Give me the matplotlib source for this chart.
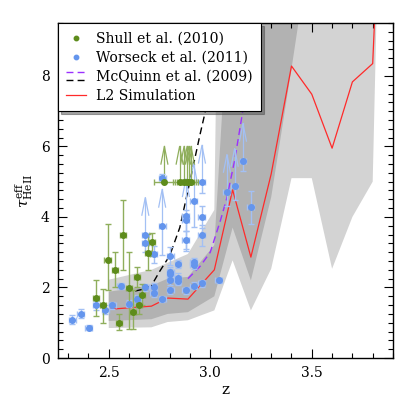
import numpy as np
import matplotlib
matplotlib.use("Agg")
import matplotlib.pyplot as plt
from matplotlib.legend_handler import HandlerBase
from matplotlib.lines import Line2D
from matplotlib.ticker import MultipleLocator

plt.rcParams["font.family"] = ["DejaVu Serif"]
plt.rcParams["mathtext.fontset"] = "dejavuserif"

# --- L2 simulation: median and percentile bands --------------------------
sim_z = [2.50, 2.71, 2.79, 2.89, 3.02, 3.11, 3.20, 3.30, 3.40, 3.50, 3.60, 3.70, 3.80, 3.82]
sim_tau = [1.38, 1.47, 1.70, 1.67, 2.50, 4.77, 2.86, 5.22, 8.28, 7.48, 5.95, 7.83, 8.35, 11.0]
dark_lo = [1.05, 1.10, 1.25, 1.30, 1.75, 3.70, 2.20, 4.56, 8.20, 12.0, 12.0, 12.0, 12.0, 12.0]
dark_hi = [1.88, 2.05, 2.25, 2.30, 3.20, 12.0, 20.0, 20.0, 20.0, 20.0, 20.0, 20.0, 20.0, 20.0]
light_lo = [0.85, 0.87, 1.02, 1.07, 1.35, 2.77, 1.35, 2.53, 5.10, 5.10, 2.53, 4.00, 5.00, 10.0]
light_hi = [2.22, 2.50, 2.70, 2.95, 4.20, 40.0, 40.0, 40.0, 40.0, 40.0, 40.0, 40.0, 40.0, 40.0]

# --- McQuinn et al. (2009) models ----------------------------------------
mcq_black_z = [2.63, 2.67, 2.71, 2.75, 2.80, 2.85, 2.89, 2.92, 2.95, 2.98, 3.01]
mcq_black_tau = [1.90, 1.95, 2.05, 2.45, 2.90, 3.70, 4.75, 5.55, 6.35, 7.10, 8.00]
mcq_purple_z = [2.89, 2.95, 3.00, 3.05, 3.08, 3.12, 3.16, 3.19]
mcq_purple_tau = [2.25, 2.60, 3.00, 3.90, 4.50, 5.60, 7.00, 8.20]

# --- Shull et al. (2010) --------------------------------------------------
shull_z = [2.438, 2.470, 2.494, 2.531, 2.551, 2.572, 2.598, 2.618, 2.638,
           2.651, 2.664, 2.692, 2.715]
shull_tau = [1.70, 1.49, 2.79, 2.50, 1.00, 3.50, 1.99, 1.30, 2.30,
             1.49, 1.80, 2.99, 3.30]
shull_lo = [0.50, 0.50, 0.87, 0.50, 0.22, 1.00, 1.16, 0.47, 0.30,
            0.25, 0.30, 0.49, 0.40]
shull_hi = [0.50, 0.47, 1.01, 0.50, 0.24, 0.99, 1.01, 0.62, 0.28,
            0.26, 0.30, 0.53, 0.25]
shull_lim_z = [2.774, 2.849, 2.871, 2.886, 2.894, 2.905]
shull_lim_tau = [5.0, 5.0, 5.0, 5.0, 5.0, 5.0]
shull_lim_xerr = [0.053, 0.035, 0.035, 0.035, 0.035, 0.035]

# --- Worseck et al. (2011) ------------------------------------------------
wor_z = [2.321, 2.361, 2.402, 2.438, 2.482, 2.518, 2.559, 2.600, 2.640,
         2.680, 2.680, 2.722, 2.722, 2.722, 2.763, 2.763, 2.803, 2.803,
         2.803, 2.803, 2.803, 2.841, 2.841, 2.841, 2.880, 2.880, 2.880,
         2.918, 2.918, 2.918, 2.959, 2.959, 2.959, 3.041, 3.200]
wor_tau = [1.09, 1.26, 0.86, 1.49, 1.37, 1.49, 2.04, 1.54, 1.68,
           2.01, 3.27, 2.00, 1.83, 2.94, 5.10, 1.68, 2.89, 2.44,
           2.37, 2.20, 1.92, 2.67, 2.26, 2.18, 3.90, 3.35, 1.92,
           2.72, 2.65, 2.05, 4.00, 3.48, 2.12, 2.20, 4.27]
wor_err = [0.12, 0.12, 0.08, 0.12, 0.12, 0.10, 0.08, 0.10, 0.12,
           0.10, 0.25, 0.12, 0.10, 0.25, 0.12, 0.08, 0.25, 0.15,
           0.15, 0.12, 0.10, 0.12, 0.15, 0.12, 0.30, 0.25, 0.10,
           0.12, 0.12, 0.10, 0.30, 0.30, 0.10, 0.08, 0.47]
wor_lim_z = [2.680, 2.763, 2.880, 2.918, 2.959, 3.082, 3.120, 3.161]
wor_lim_tau = [3.50, 3.73, 4.03, 4.46, 4.98, 4.72, 4.89, 5.60]
wor_lim_err = [0.25, 0.80, 1.00, 0.75, 0.30, 0.40, 0.40, 0.30]

GREEN = "#5e8c1c"
GREEN_E = "#8fae5c"
BLUE = "#6495ed"
BLUE_E = "#a3c0f4"
RED = "#ff2a2a"


def draw_arrows(ax, z, tau, color, length=1.05, hw=0.017, hl=0.5):
    """Lower-limit arrows: shaft plus an open chevron head."""
    for zi, ti in zip(z, tau):
        tip = ti + length
        ax.plot([zi, zi], [ti, tip], color=color, lw=0.9, zorder=3)
        ax.plot([zi - hw, zi, zi + hw], [tip - hl, tip, tip - hl],
                color=color, lw=0.9, zorder=3)


class TwoDashHandler(HandlerBase):
    def create_artists(self, legend, orig_handle, xdescent, ydescent,
                       width, height, fontsize, trans):
        out = []
        for h, frac in zip(orig_handle, (0.9, 0.1)):
            y = frac * height - ydescent
            ln = Line2D([-xdescent, width - xdescent], [y, y],
                        color=h.get_color(), lw=h.get_linewidth(),
                        ls=(0, (5, 3)))
            ln.set_transform(trans)
            out.append(ln)
        return out


fig = plt.figure(figsize=(4.15, 4.15), dpi=100)
ax = fig.add_axes([58 / 415, 57 / 415, 335 / 415, 335 / 415])

# bands
ax.fill_between(sim_z, light_lo, light_hi, color="#d3d3d3", lw=0, zorder=1)
ax.fill_between(sim_z, dark_lo, dark_hi, color="#b2b2b2", lw=0, zorder=1.1)
ln_sim, = ax.plot(sim_z, sim_tau, color=RED, lw=0.9, zorder=2)

# McQuinn models
ln_mp, = ax.plot(mcq_purple_z, mcq_purple_tau, color="#9b30ff", lw=1.0,
                 ls=(0, (5, 3)), zorder=2.5)
ln_mb, = ax.plot(mcq_black_z, mcq_black_tau, color="black", lw=1.0,
                 ls=(0, (5, 3)), zorder=2.5)

# Worseck data
draw_arrows(ax, wor_lim_z, wor_lim_tau, BLUE_E)
ax.errorbar(wor_lim_z, wor_lim_tau, yerr=[wor_lim_err, [0.0] * len(wor_lim_z)],
            xerr=0.017, fmt="o", ms=4.0, color=BLUE, ecolor=BLUE_E,
            elinewidth=1.0, capsize=2, zorder=4)
ax.errorbar(wor_z, wor_tau, yerr=wor_err, xerr=0.017, fmt="o", ms=4.0,
            color=BLUE, ecolor=BLUE_E, elinewidth=1.0, capsize=2, zorder=4)

# Shull data
draw_arrows(ax, shull_lim_z, shull_lim_tau, GREEN_E, length=1.0)
ax.errorbar(shull_lim_z, shull_lim_tau, xerr=shull_lim_xerr, fmt="o", ms=4.0,
            color=GREEN, ecolor=GREEN_E, elinewidth=1.0, capsize=2, zorder=4)
ax.errorbar(shull_z, shull_tau, yerr=[shull_lo, shull_hi], xerr=0.015,
            fmt="o", ms=4.0, color=GREEN, ecolor=GREEN_E, elinewidth=1.0,
            capsize=2, zorder=4)

ax.set_xlim(2.25, 3.9)
ax.set_ylim(0, 9.5)
ax.xaxis.set_major_locator(MultipleLocator(0.5))
ax.xaxis.set_minor_locator(MultipleLocator(0.1))
ax.yaxis.set_major_locator(MultipleLocator(2))
ax.yaxis.set_minor_locator(MultipleLocator(0.25))
ax.set_xticks([2.5, 3.0, 3.5])
ax.set_xticklabels(["2.5", "3.0", "3.5"])
ax.tick_params(which="both", direction="in", top=True, right=True,
               labelsize=10, width=0.8)
ax.tick_params(which="major", length=6.5, pad=6)
ax.tick_params(which="minor", length=3.5)
for s in ax.spines.values():
    s.set_linewidth(1.0)

ax.set_xlabel("z", fontsize=11, labelpad=2)
ax.set_ylabel(r"$\tau^{\rm eff}_{\rm HeII}$", fontsize=11, labelpad=4)

h_shull = Line2D([], [], ls="none", marker="o", ms=4.0, color=GREEN)
h_wor = Line2D([], [], ls="none", marker="o", ms=4.0, color=BLUE)
leg = ax.legend([h_shull, h_wor, (ln_mp, ln_mb), ln_sim],
                ["Shull et al. (2010)", "Worseck et al. (2011)",
                 "McQuinn et al. (2009)", "L2 Simulation"],
                handler_map={tuple: TwoDashHandler()},
                loc="upper left", borderaxespad=0, fontsize=10.1,
                fancybox=False, shadow=True, framealpha=1,
                edgecolor="black", handlelength=1.4, handletextpad=0.7,
                labelspacing=0.36, borderpad=0.6, markerscale=0.8)
leg.get_frame().set_linewidth(0.8)
leg.set_zorder(10)

fig.savefig("out.png", dpi=100)
